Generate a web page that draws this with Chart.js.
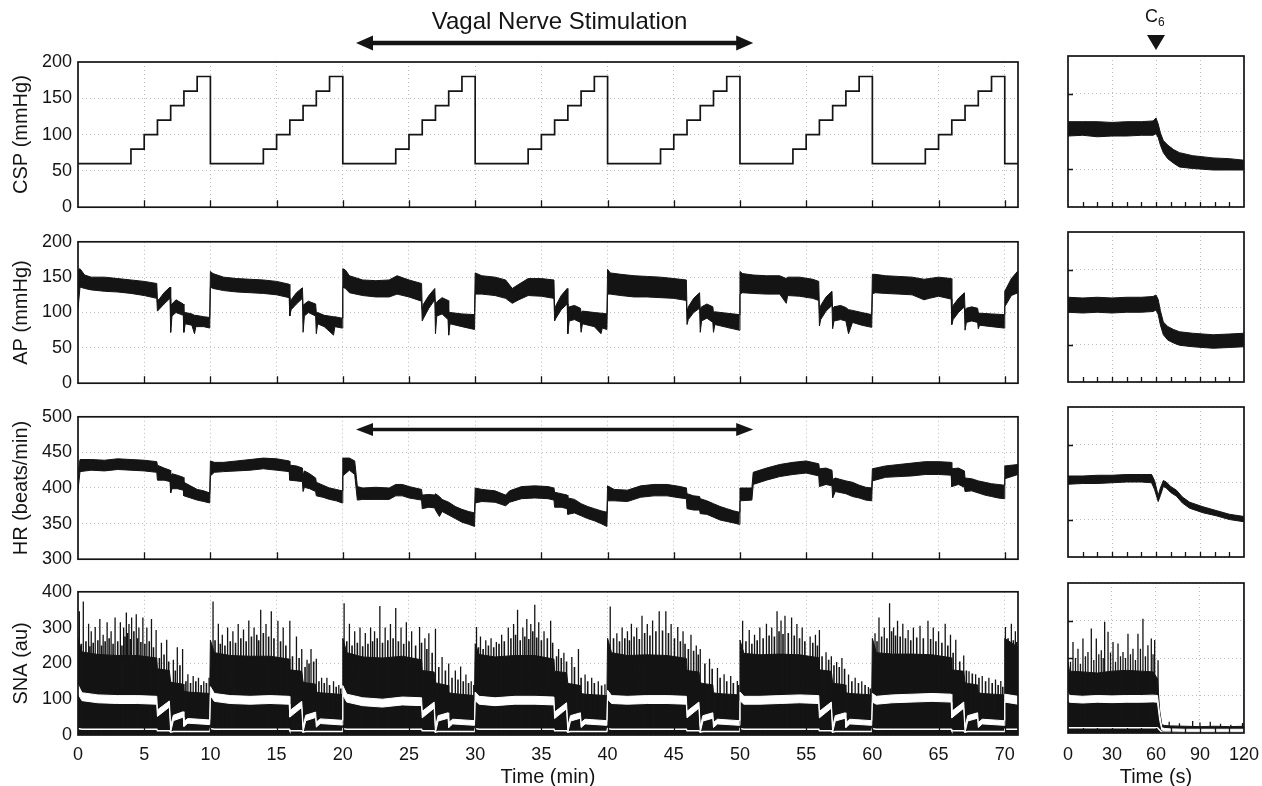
<!DOCTYPE html>
<html>
<head>
<meta charset="utf-8">
<script src="https://cdn.jsdelivr.net/npm/chart.js@4.4.1/dist/chart.umd.min.js"></script>
<style>
  body { margin:0; background:#fff; width:1262px; height:786px; position:relative; overflow:hidden; }
  canvas { position:absolute; }
</style>
</head>
<body>
<canvas id="cspL" width="1030" height="224" style="left:0;top:0"></canvas>
<canvas id="apL"  width="1030" height="175" style="left:0;top:225px"></canvas>
<canvas id="hrL"  width="1030" height="176" style="left:0;top:400px"></canvas>
<canvas id="snaL" width="1030" height="214" style="left:0;top:575px"></canvas>
<canvas id="cspR" width="232" height="219" style="left:1030px;top:0"></canvas>
<canvas id="apR"  width="232" height="174" style="left:1030px;top:220px"></canvas>
<canvas id="hrR"  width="232" height="174" style="left:1030px;top:395px"></canvas>
<canvas id="snaR" width="240" height="218" style="left:1030px;top:571px"></canvas>
<script>
// ---- data: left column, time in min ----
var stimSpan = [21, 51];

var cspT = [0,4,5,6,7,8,9, 10,14,15,16,17,18,19, 20,24,25,26,27,28,29, 30,34,35,36,37,38,39,
            40,44,45,46,47,48,49, 50,54,55,56,57,58,59, 60,64,65,66,67,68,69, 70,71];
var cspV = [60,80,100,120,140,160,180, 60,80,100,120,140,160,180, 60,80,100,120,140,160,180,
            60,80,100,120,140,160,180, 60,80,100,120,140,160,180, 60,80,100,120,140,160,180,
            60,80,100,120,140,160,180, 60,60];

var apT = [0,0.15,0.5,1,2,3,4,5,5.95,6.0,6.1,6.5,6.95,7.0,7.1,7.4,7.95,8.0,8.1,8.6,8.8,8.9,9.5,9.95,
  10.0,10.2,11,12,13,14,15,15.95,16.0,16.1,16.5,16.95,17.0,17.1,17.4,17.95,18.0,18.1,18.6,19.3,19.4,19.95,
  20.0,20.2,20.5,21.5,22.5,23.5,24.1,25,25.95,26.0,26.1,26.5,26.95,27.0,27.1,27.5,27.95,28.0,28.1,29,29.95,
  30.0,30.5,31.5,32.3,32.8,33.3,34,35,35.95,36.0,36.1,36.5,36.95,37.0,37.1,37.5,37.95,38.0,38.1,39,39.5,39.6,39.95,
  40.0,40.2,41,42,43,44,45,45.95,46.0,46.1,46.5,46.95,47.0,47.1,47.5,47.95,48.0,48.1,49,49.95,
  50.0,50.2,51,52,53,53.5,53.6,54.5,55.5,55.95,56.0,56.1,56.5,56.95,57.0,57.1,57.6,58.0,58.2,58.5,59.2,59.95,
  60.0,60.2,61,62,63,63.9,64.3,65,65.95,66.0,66.1,66.5,66.95,67.0,67.1,67.5,67.95,68.0,68.1,69,69.95,70.0,70.5,71];
var apHi = [160,162,153,150,150,148,146,144,141,118,118,128,136,110,112,118,112,100,100,98,96,96,94,93,
  158,155,150,148,147,146,144,140,112,118,128,135,110,112,116,112,100,100,96,94,94,92,
  162,160,152,146,145,146,152,146,141,105,112,124,134,110,115,121,117,101,100,98,97,
  156,152,150,146,134,140,148,148,146,102,110,124,134,106,108,110,106,100,102,100,99,99,98,
  161,156,154,152,151,150,148,146,102,108,120,128,104,108,112,108,100,101,99,97,
  158,155,153,152,152,148,150,150,147,144,104,110,122,130,104,108,110,107,104,103,100,97,
  154,154,152,151,150,147,148,150,148,104,110,120,128,104,106,108,106,100,99,98,97,130,148,159];
var apLo = [105,136,134,132,130,129,127,124,120,102,104,112,120,72,95,100,96,72,84,82,70,80,80,78,
  136,134,131,129,128,127,125,121,95,104,112,120,72,95,100,95,70,84,80,68,80,78,
  136,134,128,124,122,122,126,122,116,88,92,106,118,70,95,98,90,68,84,80,76,
  126,126,124,120,113,118,124,123,120,88,92,104,112,70,88,90,86,72,84,80,70,78,76,
  126,126,124,122,122,121,120,117,83,90,100,106,72,88,92,86,72,83,79,75,
  126,128,127,126,126,113,124,123,120,117,81,90,102,110,77,88,90,88,70,86,82,79,
  126,128,127,126,125,118,120,123,119,83,90,100,108,75,86,88,86,77,82,80,78,108,124,128];

var hrT = [0,0.15,1,2,3,4,5,5.95,6.0,6.5,6.95,7.0,7.1,7.5,7.95,8.0,8.5,9,9.5,9.95,
  10.0,10.3,11,12,13,14,15,15.95,16.0,16.5,16.95,17.0,17.1,17.5,17.95,18.0,18.5,19,19.5,19.95,
  20.0,20.5,20.9,21.1,21.5,22.5,23.5,24,24.5,25,25.95,26.0,26.5,26.95,27.0,27.3,27.5,28,28.5,29,29.5,29.95,
  30.0,30.5,31.5,32.3,32.6,33.5,34.5,35.5,35.95,36.0,36.5,36.95,37.0,37.5,38,38.5,39,39.5,39.95,
  40.0,40.5,41.5,42.5,43.5,44.5,45.5,45.95,46.0,46.5,46.95,47.0,47.5,48,48.5,49,49.5,49.95,
  50.0,50.9,51.0,52,53,54,55,55.95,56.0,56.5,56.95,57.0,57.2,58,58.5,59,59.5,59.95,
  60.0,61,62,63,64,65,65.95,66.0,66.5,66.95,67.0,67.5,68,68.5,69,69.5,69.95,70.0,71];
var hrHi = [420,440,440,439,441,440,439,437,432,428,425,415,420,418,415,408,403,398,396,393,
  438,436,436,438,440,442,441,438,432,431,428,418,424,420,414,408,404,400,398,396,
  442,442,438,402,400,401,400,405,405,402,398,390,391,390,392,388,384,380,374,370,367,365,
  400,398,396,390,396,402,403,402,400,394,392,390,386,384,378,374,371,368,366,
  403,398,397,403,405,405,402,400,392,389,388,385,382,378,374,371,368,366,
  400,400,422,428,433,436,438,434,427,428,425,412,414,410,408,404,401,400,
  427,431,433,435,437,437,436,427,428,424,414,413,410,408,406,405,404,431,433];
var hrLo = [397,423,425,424,426,425,424,422,411,411,409,393,399,399,397,389,386,383,381,379,
  417,422,423,424,425,427,425,423,411,410,409,395,401,399,395,389,387,384,382,379,
  417,425,419,383,384,384,384,389,389,386,383,371,373,372,369,360,367,362,357,352,349,346,
  379,381,380,375,380,385,386,385,383,373,373,371,363,365,361,357,354,350,346,
  382,382,381,387,389,389,386,385,371,369,369,364,363,359,355,353,351,349,
  382,383,405,411,416,419,421,417,402,405,403,386,395,392,388,386,383,382,
  410,415,416,417,419,419,418,402,405,401,395,396,393,390,388,386,385,413,419];

// SNA: dense black envelope, white mean band, white floor trace
var snaT = [0,0.3,1.5,3,4.5,5.95,6.0,6.9,7.0,7.2,7.95,8.0,8.3,9.95,
  10,10.3,11.5,13,14.5,15.95,16.0,16.9,17.0,17.2,17.95,18.0,18.3,19.95,
  20,20.3,21.5,23,24.5,25.95,26.0,26.9,27.0,27.2,27.95,28.0,28.3,29.95,
  30,30.3,31.5,33,34.5,35.95,36.0,36.9,37.0,37.2,37.95,38.0,38.3,39.95,
  40,40.3,41.5,43,44.5,45.95,46.0,46.9,47.0,47.2,47.95,48.0,48.3,49.95,
  50,50.3,51.5,53,54.5,55.95,56.0,56.9,57.0,57.2,57.95,58.0,58.3,59.95,
  60,60.3,61.5,63,64.5,65.95,66.0,66.9,67.0,67.2,67.95,68.0,68.3,69.95,
  70,71];
var snaTop = [270,232,225,222,222,215,185,180,148,146,142,122,120,116,
  265,230,222,220,220,212,182,178,148,146,142,120,118,113,
  270,230,218,215,220,210,180,176,146,144,138,118,116,110,
  255,225,218,222,222,212,178,174,144,143,138,116,114,110,
  270,230,222,224,222,214,180,176,146,144,140,118,116,112,
  265,228,224,226,224,216,182,178,146,144,140,118,116,112,
  270,230,226,226,224,216,182,178,146,144,140,118,116,112,
  270,245];
var snaBot = [2,2,2,2,2,2,2,2,2,2,2,2,2,2, 2,2,2,2,2,2,2,2,2,2,2,2,2,2,
  2,2,2,2,2,2,2,2,2,2,2,2,2,2, 2,2,2,2,2,2,2,2,2,2,2,2,2,2,
  2,2,2,2,2,2,2,2,2,2,2,2,2,2, 2,2,2,2,2,2,2,2,2,2,2,2,2,2,
  2,2,2,2,2,2,2,2,2,2,2,2,2,2, 2,2];
var snaMHi = [140,118,112,110,110,108,70,95,25,55,65,38,46,42,
  135,116,110,108,110,108,68,94,25,55,64,36,45,41,
  138,114,104,100,106,104,66,92,24,54,62,35,44,40,
  120,108,104,108,108,106,64,90,24,54,62,35,44,40,
  125,110,108,110,110,108,66,92,24,54,62,35,44,40,
  120,108,108,110,112,110,66,92,24,54,62,35,44,40,
  116,108,112,114,116,114,66,92,24,54,62,35,44,40,
  114,108];
var snaMLo = [115,96,90,88,88,86,52,78,8,40,50,24,33,29,
  110,94,88,86,88,86,50,77,8,40,49,22,32,28,
  112,92,82,78,84,82,48,75,7,39,47,21,31,27,
  96,86,82,86,86,84,46,73,7,39,47,21,31,27,
  100,88,86,88,88,86,48,75,7,39,47,21,31,27,
  96,86,86,88,90,88,48,75,7,39,47,21,31,27,
  92,86,90,92,94,92,48,75,7,39,47,21,31,27,
  92,86];
var snaF = [18,16,16,16,16,16,12,12,8,10,10,10,10,10,
  18,16,16,16,16,16,12,12,8,10,10,10,10,10,
  18,16,16,16,16,16,12,12,8,10,10,10,10,10,
  18,16,16,16,16,16,12,12,8,10,10,10,10,10,
  18,16,16,16,16,16,12,12,8,10,10,10,10,10,
  18,16,16,16,16,16,12,12,8,10,10,10,10,10,
  18,16,16,16,16,16,12,12,8,10,10,10,10,10,
  16,16];
// tall bursts
var spT = [0.1,0.4,0.8,1.0,1.3,1.65,1.9,2.2,2.5,2.8,3.2,3.45,3.65,3.85,4.05,4.4,4.6,4.9,5.2,5.55,5.9,6.3,6.7,7.2,7.5,7.9,8.3,8.7,9.1,9.5,9.9,
  10.2,10.6,10.9,11.3,11.7,12.1,12.5,12.9,13.3,13.8,14.2,14.6,15.1,15.5,16.0,16.5,16.9,17.3,17.6,18.0,18.4,18.8,19.3,19.7,
  20.1,20.5,20.9,21.3,21.7,22.1,22.4,22.8,23.2,23.6,24.0,24.4,24.8,25.2,25.8,26.2,26.5,27.0,27.5,28.0,28.5,28.9,29.3,29.7,
  30.1,30.4,30.8,31.2,31.6,32.0,32.5,32.9,33.2,33.6,33.9,34.2,34.5,34.8,35.2,35.7,36.3,36.7,37.3,37.8,38.3,38.8,39.3,39.8,
  40.2,40.7,41.1,41.5,41.8,42.2,42.6,43.0,43.4,43.9,44.4,44.8,45.3,45.7,46.3,46.7,47.0,47.7,48.3,48.8,49.3,49.8,
  50.2,50.7,51.1,51.5,52.0,52.4,52.8,53.1,53.4,53.9,54.3,54.7,55.3,55.7,56.0,56.5,56.9,57.3,57.7,58.2,58.7,59.2,59.7,
  60.2,60.5,60.9,61.3,61.6,61.9,62.3,62.7,63.1,63.6,64.2,64.6,65.0,65.5,65.9,66.3,66.9,67.3,67.8,68.3,68.8,69.3,69.7,70.05,70.5,70.8];
var spV = [346,373,311,290,302,324,280,315,290,328,315,300,342,310,328,337,300,328,300,324,293,258,266,210,245,240,170,165,160,150,160,
  373,311,280,300,290,310,295,320,300,350,310,346,319,300,319,275,240,210,240,213,160,160,150,140,
  368,311,290,300,285,300,290,360,300,310,355,300,315,290,302,270,284,297,218,200,180,191,169,150,
  302,275,265,270,260,280,300,310,350,300,324,310,364,315,290,319,240,230,218,240,169,160,150,142,
  359,284,300,290,311,300,333,310,320,346,346,310,302,290,280,250,240,213,187,170,165,151,
  319,293,280,300,311,300,346,320,333,328,310,300,275,280,293,231,220,204,215,169,160,150,134,
  284,328,300,368,300,319,311,293,300,305,319,300,290,311,280,266,222,178,170,165,160,155,151,302,311,290];
// medium bursts that make the ragged top of the dense band
var midT = [0.25,0.6,0.9,1.15,1.5,1.78,2.05,2.35,2.65,3.0,3.32,3.55,3.75,3.95,4.22,4.5,4.75,5.05,5.38,5.7,
  6.15,6.5,6.85,7.35,7.7,8.15,8.5,8.9,9.3,9.7,
  10.35,10.75,11.1,11.5,11.9,12.3,12.7,13.1,13.5,13.65,14.0,14.4,14.8,15.3,15.7,
  16.2,16.7,17.15,17.45,17.8,18.2,18.6,19.0,19.5,19.85,
  20.3,20.7,21.1,21.5,21.9,22.25,22.6,23.0,23.4,23.8,24.2,24.6,25.0,25.5,25.95,
  26.35,26.75,27.25,27.75,28.25,28.7,29.1,29.5,29.9,
  30.25,30.6,31.0,31.4,31.8,32.2,32.7,33.05,33.4,33.75,34.05,34.35,34.65,35.0,35.45,35.85,
  36.15,36.5,36.9,37.5,38.0,38.5,39.0,39.55,
  40.45,40.9,41.3,41.65,42.0,42.4,42.8,43.2,43.65,44.15,44.6,45.05,45.5,45.85,
  46.1,46.5,46.85,47.35,47.9,48.5,49.0,49.5,49.9,
  50.45,50.9,51.3,51.75,52.2,52.6,52.95,53.25,53.65,54.1,54.5,54.9,55.5,55.85,
  56.2,56.7,57.1,57.5,57.9,58.45,58.95,59.45,59.85,
  60.35,60.7,61.1,61.45,61.75,62.1,62.5,62.9,63.35,63.85,64.4,64.8,65.25,65.7,
  66.1,66.6,67.1,67.55,68.05,68.55,69.05,69.5,69.85,70.25,70.65,70.9];
var midV = [255,262,248,258,265,250,262,270,255,262,250,275,285,268,290,270,260,255,262,245,
  215,225,205,180,195,150,145,150,140,145,
  265,255,250,262,258,270,262,275,280,265,285,275,270,262,250,
  220,215,190,200,205,150,145,140,135,130,
  262,250,258,248,255,262,270,258,265,270,262,255,262,250,258,
  240,230,190,180,160,155,150,145,140,
  245,240,250,245,255,262,270,280,265,275,268,290,272,265,270,258,
  220,215,205,190,160,150,145,138,
  270,262,270,265,275,268,285,278,290,292,285,270,262,255,
  240,235,225,200,185,160,150,145,140,
  262,255,265,270,278,275,290,282,285,278,270,262,258,250,
  220,210,195,190,185,150,145,140,130,
  262,275,270,290,278,275,270,265,272,270,268,262,258,250,
  230,205,180,172,160,150,145,140,135,270,265,260];

// ---- data: right column, time in s (C6 at 60 s) ----
var crT  = [0,10,20,30,40,50,58,60,61.5,63,65,68,72,76,85,99,110,120];
var crHi = [113,113,113,112,113,113,114,118,110,98,88,82,76,72,68,65,64,62];
var crLo = [94,95,93,94,94,95,95,97,92,82,72,64,58,53,51,49,49,49];
var arHi = [113,112,113,112,113,113,114,116,110,95,80,74,70,67,65,63,64,65];
var arLo = [93,92,93,92,93,93,94,96,90,76,63,56,52,49,47,45,46,47];
var hrrT  = [0,10,20,30,40,50,57,59,61.5,63,65,67,70,74,78,83,92,101,110,120];
var hrrHi = [408,408,409,409,410,410,410,402,382,392,402,400,394,389,380,373,367,362,357,354];
var hrrLo = [397,398,398,399,400,400,399,390,374,382,394,392,386,381,372,365,359,355,350,347];
var srT   = [0,1,10,20,30,40,50,58,61,62.5,64,66,70,80,90,100,110,120];
var srTop = [190,165,163,160,165,167,165,163,145,60,22,20,19,18,17,18,17,18];
var srBot = [1,1,1,1,1,1,1,1,1,1,1,1,1,1,1,1,1,1];
var srMHi = [108,100,98,100,99,100,100,101,100,50,14,12,11,10,10,10,10,10];
var srMLo = [90,82,80,82,81,82,82,83,82,34,8,6,6,5,5,5,5,5];
var srF   = [14,14,14,14,14,14,14,14,14,8,2,2,2,2,2,2,2,2];
var srSpT = [1.7,3.4,5.1,6.8,8.5,10.2,11.9,13.6,15.9,17.6,19.3,21,22.7,24,25,27.3,29,30.7,32.4,34.1,35.8,37.5,39.2,40.9,
  42.6,44.3,46,47.7,49.4,51.1,52.8,54.5,56.8,58,59.1,61.4,69,76,85,90,97,104,111,119];
var srSpV = [190,243,200,225,185,252,205,216,279,195,252,210,221,200,297,270,215,243,190,239,205,216,200,265,
  210,225,195,265,225,305,205,234,252,210,248,194,30,26,32,28,30,25,22,27];

var FONT = "'Liberation Sans', Arial, Helvetica, sans-serif";
var INK = '#141414';
var GRID = '#bdbdbd';

function pts(t, v) { return t.map(function(x, i){ return {x: x, y: v[i]}; }); }
function spikes(t, v) {
  var d = [];
  t.forEach(function(x, i){ d.push({x: x, y: 0}, {x: x, y: v[i]}, {x: x, y: null}); });
  return d;
}
function band(t, hi, lo, col, order) {
  return [
    {data: pts(t, hi), borderColor: col, backgroundColor: col, borderWidth: 1, fill: '+1', order: order},
    {data: pts(t, lo), borderColor: col, borderWidth: 1, fill: false, order: order}
  ];
}

function arrow(ctx, x1, x2, y, w, head, hw) {
  ctx.lineWidth = w;
  ctx.beginPath(); ctx.moveTo(x1 + head - 2, y); ctx.lineTo(x2 - head + 2, y); ctx.stroke();
  ctx.beginPath(); ctx.moveTo(x1, y); ctx.lineTo(x1 + head, y - hw); ctx.lineTo(x1 + head, y + hw); ctx.closePath(); ctx.fill();
  ctx.beginPath(); ctx.moveTo(x2, y); ctx.lineTo(x2 - head, y - hw); ctx.lineTo(x2 - head, y + hw); ctx.closePath(); ctx.fill();
}

// box round the plot + short inward ticks
var frame = {
  id: 'frame',
  afterDraw: function(c, args, o) {
    var ctx = c.ctx, a = c.chartArea, xs = c.scales.x, ys = c.scales.y;
    ctx.save();
    ctx.strokeStyle = INK;
    ctx.lineWidth = 1.3;
    ctx.beginPath();
    xs.ticks.forEach(function(t){
      if (t.value <= xs.min || t.value >= xs.max) return;
      var px = Math.round(xs.getPixelForValue(t.value)) + 0.5;
      ctx.moveTo(px, a.bottom); ctx.lineTo(px, a.bottom - o.len);
    });
    (o.yTicks || []).forEach(function(v){
      var py = Math.round(ys.getPixelForValue(v)) + 0.5;
      ctx.moveTo(a.left, py); ctx.lineTo(a.left + o.len, py);
    });
    ctx.stroke();
    ctx.lineWidth = 1.7;
    ctx.strokeRect(a.left, a.top, a.right - a.left, a.bottom - a.top);
    ctx.restore();
  }
};

function xAxis(min, max, step, o) {
  return {
    type: 'linear', min: min, max: max,
    ticks: {display: !!o.labels, stepSize: step, includeBounds: false, padding: o.pad || 9, maxRotation: 0, autoSkip: false,
            color: INK, font: {family: FONT, size: 18}, callback: o.cb || function(v){ return v; }},
    grid: {color: o.gridColor || GRID, drawTicks: false, lineWidth: 1},
    border: {display: false, dash: [1, 3]},
    title: {display: !!o.title, text: o.title, color: INK, font: {family: FONT, size: 20}, padding: 0},
    afterFit: function(s){ s.height = o.h; }
  };
}
function yAxis(min, max, step, o) {
  return {
    min: min, max: max,
    ticks: {display: !!o.labels, stepSize: step, padding: 6, color: INK, font: {family: FONT, size: 18}},
    grid: {color: GRID, drawTicks: false, lineWidth: 1},
    border: {display: false, dash: [1, 3]},
    title: {display: !!o.title, text: o.title, color: INK, font: {family: FONT, size: 20}, padding: {top: 9, bottom: 0}},
    afterFit: function(s){ s.width = o.w; }
  };
}

function make(id, datasets, pad, x, y, frameOpts, extra) {
  return new Chart(document.getElementById(id), {
    type: 'line',
    data: {datasets: datasets},
    options: {
      responsive: false, animation: false, events: [],
      layout: {padding: pad},
      elements: {point: {radius: 0}, line: {tension: 0}},
      plugins: {legend: {display: false}, tooltip: {enabled: false}, frame: frameOpts},
      scales: {x: x, y: y}
    },
    plugins: [frame].concat(extra || [])
  });
}

var vagalNote = {
  id: 'vagalNote',
  afterDraw: function(c) {
    var ctx = c.ctx, a = c.chartArea, xs = c.scales.x;
    var x1 = xs.getPixelForValue(stimSpan[0]), x2 = xs.getPixelForValue(stimSpan[1]);
    ctx.save();
    ctx.fillStyle = INK; ctx.strokeStyle = INK;
    ctx.font = '24px ' + FONT; ctx.textAlign = 'center'; ctx.textBaseline = 'middle';
    ctx.fillText('Vagal Nerve Stimulation', (x1 + x2) / 2 + 5, a.top - 40);
    arrow(ctx, x1, x2, a.top - 19, 4.5, 17, 7.5);
    ctx.restore();
  }
};
var hrArrow = {
  id: 'hrArrow',
  afterDraw: function(c) {
    var ctx = c.ctx, xs = c.scales.x, ys = c.scales.y;
    ctx.save();
    ctx.fillStyle = INK; ctx.strokeStyle = INK;
    arrow(ctx, xs.getPixelForValue(stimSpan[0]), xs.getPixelForValue(stimSpan[1]), ys.getPixelForValue(482), 3.5, 17, 6.5);
    ctx.restore();
  }
};
var c6Note = {
  id: 'c6Note',
  afterDraw: function(c) {
    var ctx = c.ctx, a = c.chartArea, x = c.scales.x.getPixelForValue(60);
    ctx.save();
    ctx.fillStyle = INK;
    ctx.font = '18px ' + FONT; ctx.textAlign = 'right'; ctx.textBaseline = 'alphabetic';
    ctx.fillText('C', x + 2, a.top - 34);
    ctx.font = '12px ' + FONT; ctx.textAlign = 'left';
    ctx.fillText('6', x + 2, a.top - 30);
    ctx.beginPath(); ctx.moveTo(x - 9, a.top - 21); ctx.lineTo(x + 9, a.top - 21); ctx.lineTo(x, a.top - 6); ctx.closePath(); ctx.fill();
    ctx.restore();
  }
};

var padL = function(t, b){ return {left: 0, right: 12, top: t, bottom: b}; };
var padR = function(t, b, r){ return {left: 0, right: r || 18, top: t, bottom: b}; };

// ---- left column ----
make('cspL',
  [{data: pts(cspT, cspV), stepped: 'before', borderColor: INK, borderWidth: 1.7, fill: false}],
  padL(62, 12), xAxis(0, 71, 5, {h: 0}), yAxis(0, 200, 50, {labels: true, title: 'CSP (mmHg)', w: 78}),
  {len: 7}, [vagalNote]);

make('apL', band(apT, apHi, apLo, INK, 1),
  padL(12, 12), xAxis(0, 71, 5, {h: 0}), yAxis(0, 200, 50, {labels: true, title: 'AP (mmHg)', w: 78}),
  {len: 7});

make('hrL', band(hrT, hrHi, hrLo, INK, 1),
  padL(13, 12), xAxis(0, 71, 5, {h: 0}), yAxis(300, 500, 50, {labels: true, title: 'HR (beats/min)', w: 78}),
  {len: 7}, [hrArrow]);

make('snaL',
  band(snaT, snaMHi, snaMLo, '#ffffff', 1)
    .concat([{data: pts(snaT, snaF), borderColor: '#ffffff', borderWidth: 1.5, fill: false, order: 2},
             {data: spikes(spT, spV), borderColor: INK, borderWidth: 1.3, fill: false, order: 3},
             {data: spikes(midT, midV), borderColor: INK, borderWidth: 1.6, fill: false, order: 3}])
    .concat(band(snaT, snaTop, snaBot, INK, 4)),
  padL(14, 0), xAxis(0, 71, 5, {h: 54, labels: true, pad: 9, title: 'Time (min)'}),
  yAxis(0, 400, 100, {labels: true, title: 'SNA (au)', w: 78}),
  {len: 7});

// ---- right column ----
var rightGrid = function(ctx){ return (ctx.tick && ctx.tick.value % 30 === 0) ? GRID : 'rgba(0,0,0,0)'; };

make('cspR', band(crT, crHi, crLo, INK, 1),
  padR(56, 12), xAxis(0, 120, 10, {h: 0, gridColor: rightGrid}), yAxis(0, 200, 50, {w: 38}),
  {len: 5, yTicks: [50, 150]}, [c6Note]);

make('apR', band(crT, arHi, arLo, INK, 1),
  padR(12, 12), xAxis(0, 120, 10, {h: 0, gridColor: rightGrid}), yAxis(0, 200, 50, {w: 38}),
  {len: 5, yTicks: [50, 150]});

make('hrR', band(hrrT, hrrHi, hrrLo, INK, 1),
  padR(12, 12), xAxis(0, 120, 10, {h: 0, gridColor: rightGrid}), yAxis(300, 500, 50, {w: 38}),
  {len: 5, yTicks: [350, 450]});

make('snaR',
  band(srT, srMHi, srMLo, '#ffffff', 1)
    .concat([{data: pts(srT, srF), borderColor: '#ffffff', borderWidth: 1.5, fill: false, order: 2},
             {data: spikes(srSpT, srSpV), borderColor: INK, borderWidth: 1.3, fill: false, order: 3}])
    .concat(band(srT, srTop, srBot, INK, 4)),
  padR(12, 0, 26), xAxis(0, 120, 10, {h: 56, labels: true, pad: 11, title: 'Time (s)', gridColor: rightGrid,
                                   cb: function(v){ return v % 30 === 0 ? v : ''; }}),
  yAxis(0, 400, 100, {w: 38}),
  {len: 5, yTicks: [200, 300]});
</script>
</body>
</html>
